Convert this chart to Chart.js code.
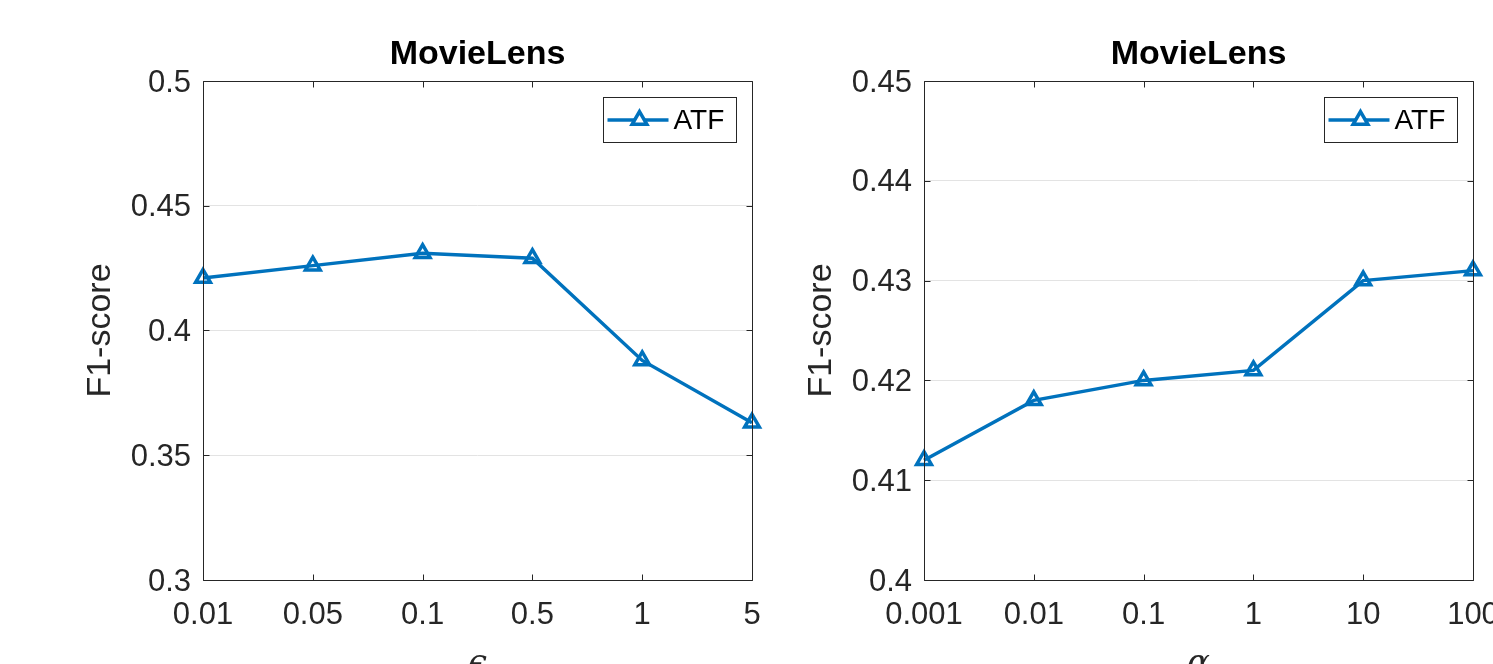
<!DOCTYPE html>
<html>
<head>
<meta charset="utf-8">
<script src="https://cdn.jsdelivr.net/npm/chart.js@4.4.1/dist/chart.umd.min.js"></script>
<style>
  html, body { margin: 0; padding: 0; background: #fff; overflow: hidden; }
  #wrap { position: relative; width: 1493px; height: 664px; }
  #wrap canvas { position: absolute; left: 0; top: 0; }
</style>
</head>
<body>
<div id="wrap">
  <canvas id="epsChart" width="1493" height="664"></canvas>
  <canvas id="alphaChart" width="1493" height="664"></canvas>
</div>
<script>
// F1-score of ATF on MovieLens versus the epsilon parameter
const epsLabels = ['0.01', '0.05', '0.1', '0.5', '1', '5'];
const epsF1 = [0.421, 0.426, 0.431, 0.429, 0.388, 0.363];
const epsYTicks = [0.3, 0.35, 0.4, 0.45, 0.5];
const epsYTickLabels = ['0.3', '0.35', '0.4', '0.45', '0.5'];

// F1-score of ATF on MovieLens versus the alpha parameter
const alphaLabels = ['0.001', '0.01', '0.1', '1', '10', '100'];
const alphaF1 = [0.412, 0.418, 0.420, 0.421, 0.430, 0.431];
const alphaYTicks = [0.4, 0.41, 0.42, 0.43, 0.44, 0.45];
const alphaYTickLabels = ['0.4', '0.41', '0.42', '0.43', '0.44', '0.45'];

const seriesName = 'ATF';
const panelTitle = 'MovieLens';
const yAxisTitle = 'F1-score';

const LINE_BLUE = '#0072BD';
const AXIS_GREY = '#262626';
const SANS = '"Liberation Sans", Arial, Helvetica, sans-serif';
const MARKER = { pointStyle: 'triangle', radius: 8.5, borderWidth: 3.5, rotation: 0 };

// Boxed axes with inward ticks, panel title, axis titles and a framed legend
const axesDecor = {
  id: 'axesDecor',
  afterDraw(chart, args, opts) {
    const { ctx, chartArea: a, scales } = chart;
    const xs = scales.x, ys = scales.y;
    const L = Math.round(a.left) + 0.5, R = Math.round(a.right) + 0.5;
    const T = Math.round(a.top) + 0.5, B = Math.round(a.bottom) + 0.5;
    const tickLen = 6;
    ctx.save();

    ctx.strokeStyle = AXIS_GREY;
    ctx.lineWidth = 1;
    ctx.beginPath();
    xs.ticks.forEach((t, i) => {
      const px = Math.round(xs.getPixelForTick(i)) + 0.5;
      ctx.moveTo(px, B); ctx.lineTo(px, B - tickLen);
      ctx.moveTo(px, T); ctx.lineTo(px, T + tickLen);
    });
    ys.ticks.forEach(t => {
      const py = Math.round(ys.getPixelForValue(t.value)) + 0.5;
      ctx.moveTo(L, py); ctx.lineTo(L + tickLen, py);
      ctx.moveTo(R, py); ctx.lineTo(R - tickLen, py);
    });
    ctx.rect(L, T, R - L, B - T);
    ctx.stroke();

    const cx = (a.left + a.right) / 2;

    // panel title
    ctx.fillStyle = '#000';
    ctx.font = 'bold 34px ' + SANS;
    ctx.textAlign = 'center';
    ctx.textBaseline = 'alphabetic';
    ctx.fillText(opts.title, cx, 64);

    // y-axis title
    ctx.save();
    ctx.translate(a.left - 102, (a.top + a.bottom) / 2);
    ctx.rotate(-Math.PI / 2);
    ctx.fillStyle = AXIS_GREY;
    ctx.font = '34px ' + SANS;
    ctx.textBaseline = 'middle';
    ctx.fillText(opts.yTitle, 0, 0);
    ctx.restore();

    // x-axis title (Greek symbol, partly below the page edge)
    ctx.fillStyle = AXIS_GREY;
    ctx.font = 'italic 34px "DejaVu Serif", "Liberation Serif", serif';
    ctx.textAlign = 'center';
    ctx.textBaseline = 'alphabetic';
    ctx.fillText(opts.xTitle, cx, 673);

    // legend
    const bw = 133, bh = 45;
    const bx = Math.round(a.right) - 16 - bw + 0.5;
    const by = Math.round(a.top) + 16 + 0.5;
    ctx.fillStyle = '#fff';
    ctx.fillRect(bx, by, bw, bh);
    ctx.strokeStyle = AXIS_GREY;
    ctx.lineWidth = 1;
    ctx.strokeRect(bx, by, bw, bh);
    const my = by + 22.5;
    ctx.strokeStyle = LINE_BLUE;
    ctx.lineWidth = 3.5;
    ctx.beginPath();
    ctx.moveTo(bx + 4, my);
    ctx.lineTo(bx + 65, my);
    ctx.stroke();
    Chart.helpers.drawPoint(ctx, MARKER, bx + 36, my);
    ctx.fillStyle = '#000';
    ctx.font = '28px ' + SANS;
    ctx.textAlign = 'left';
    ctx.textBaseline = 'middle';
    ctx.fillText(opts.legend, bx + 70, my + 1);

    ctx.restore();
  }
};

function makePanel(canvasId, labels, values, yTicks, yTickLabels, xTitle, yAxisWidth, padRight) {
  return new Chart(document.getElementById(canvasId), {
    type: 'line',
    data: {
      labels: labels,
      datasets: [{
        label: seriesName,
        data: values,
        borderColor: LINE_BLUE,
        borderWidth: 3.5,
        tension: 0,
        fill: false,
        pointStyle: MARKER.pointStyle,
        pointRadius: MARKER.radius,
        pointBorderWidth: MARKER.borderWidth,
        pointBorderColor: LINE_BLUE,
        pointBackgroundColor: 'rgba(255,255,255,0)',
        clip: false
      }]
    },
    options: {
      responsive: false,
      animation: false,
      events: [],
      layout: {
        autoPadding: false,
        padding: { left: 0, right: padRight, top: 81, bottom: 0 }
      },
      plugins: {
        legend: { display: false },
        title: { display: false },
        tooltip: { enabled: false },
        axesDecor: { title: panelTitle, yTitle: yAxisTitle, xTitle: xTitle, legend: seriesName }
      },
      scales: {
        x: {
          type: 'category',
          offset: false,
          grid: { display: false, drawTicks: false },
          border: { display: false },
          ticks: {
            autoSkip: false,
            maxRotation: 0,
            padding: 17,
            color: AXIS_GREY,
            font: { family: SANS, size: 31 }
          },
          afterFit(s) { s.height = 84; s.paddingLeft = 0; s.paddingRight = 0; }
        },
        y: {
          type: 'linear',
          min: yTicks[0],
          max: yTicks[yTicks.length - 1],
          grid: { color: '#e3e3e3', lineWidth: 1, drawTicks: false },
          border: { display: false },
          afterBuildTicks(s) { s.ticks = yTicks.map(v => ({ value: v })); },
          ticks: {
            padding: 12,
            labelOffset: 2,
            color: AXIS_GREY,
            font: { family: SANS, size: 31 },
            callback: (v, i) => yTickLabels[i]
          },
          afterFit(s) { s.width = yAxisWidth; s.paddingTop = 0; s.paddingBottom = 0; }
        }
      }
    },
    plugins: [axesDecor]
  });
}

makePanel('epsChart', epsLabels, epsF1, epsYTicks, epsYTickLabels, '\u03F5', 203, 1493 - 752);
makePanel('alphaChart', alphaLabels, alphaF1, alphaYTicks, alphaYTickLabels, '\u03B1', 924, 1493 - 1473);
</script>
</body>
</html>
